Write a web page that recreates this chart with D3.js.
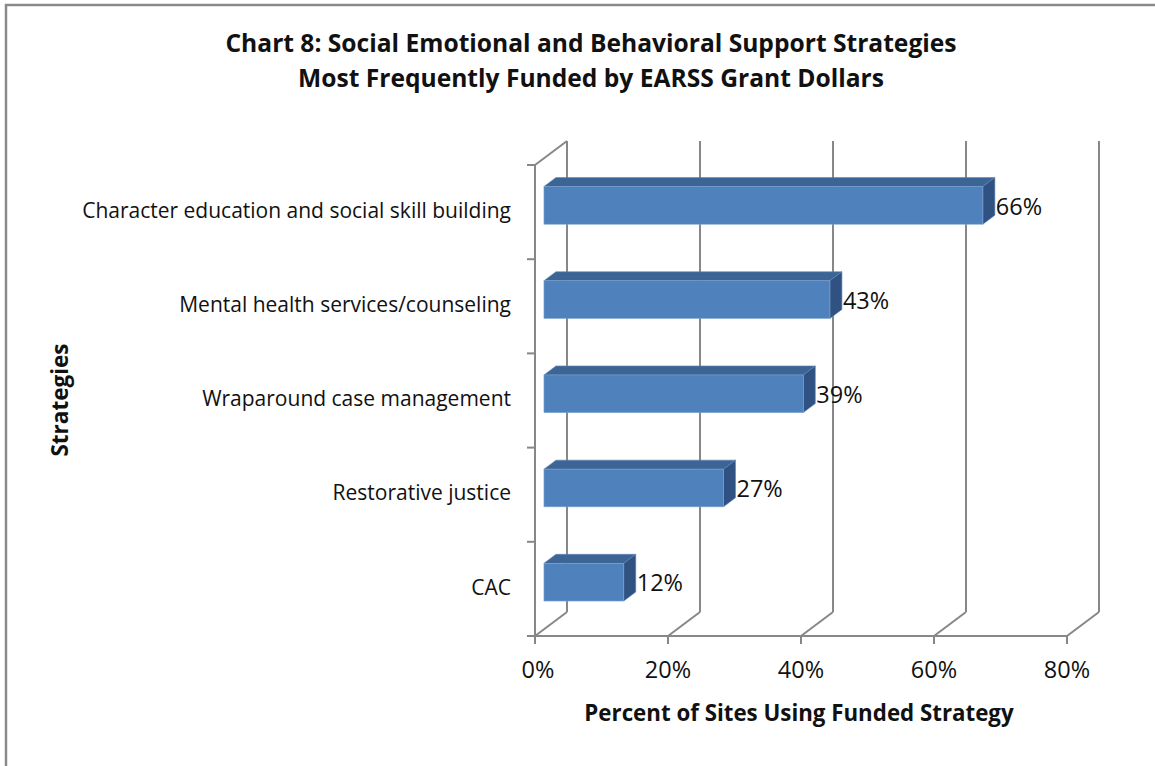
<!DOCTYPE html>
<html>
<head>
<meta charset="utf-8">
<script src="https://cdn.jsdelivr.net/npm/d3@7"></script>
<style>
  html, body { margin: 0; padding: 0; background: #fff; }
  svg { display: block; }
  text { font-family: "Open Sans", Lato, sans-serif; fill: #111; }
</style>
</head>
<body>
<svg id="chart" width="1155" height="766"></svg>
<script>
// Strategies and the share of sites using each one (percent)
const categories = [
  "Character education and social skill building",
  "Mental health services/counseling",
  "Wraparound case management",
  "Restorative justice",
  "CAC"
];
const values = [66, 43, 39, 27, 12];
const xTicks = [0, 20, 40, 60, 80];
const titleLines = [
  "Chart 8: Social Emotional and Behavioral Support Strategies",
  "Most Frequently Funded by EARSS Grant Dollars"
];
const xTitle = "Percent of Sites Using Funded Strategy";
const yTitle = "Strategies";

const svg = d3.select("#chart");
const W = 1155, H = 766;

svg.append("rect").attr("width", W).attr("height", H).attr("fill", "#fff");
// outer chart frame (runs off the right and bottom edges)
svg.append("rect")
  .attr("x", 6).attr("y", 5).attr("width", W + 20).attr("height", H + 20)
  .attr("fill", "none").attr("stroke", "#8a8a8a").attr("stroke-width", 2.5);

// plot geometry: front plane and the receding depth of the 3-D box
const front = { left: 535, right: 1067, top: 165, bottom: 636 };
const depth = { dx: 32, dy: -24 };
const barDepthStart = 0.28, barDepthSize = 0.375;

const x = d3.scaleLinear().domain([0, 80]).range([front.left, front.right]);
const yBand = d3.scaleBand().domain(categories).range([front.top, front.bottom]).padding(0);
const y = d3.scaleBand().domain(categories).range([front.top, front.bottom])
  .paddingInner(0.6).paddingOuter(0.3);

const grid = "#878787";
const g = svg.append("g");

// back-wall gridlines and floor diagonals
xTicks.forEach(t => {
  const fx = x(t);
  g.append("line")
    .attr("x1", fx + depth.dx).attr("x2", fx + depth.dx)
    .attr("y1", front.top + depth.dy).attr("y2", front.bottom + depth.dy)
    .attr("stroke", grid).attr("stroke-width", 2);
  g.append("line")
    .attr("x1", fx).attr("y1", front.bottom)
    .attr("x2", fx + depth.dx).attr("y2", front.bottom + depth.dy)
    .attr("stroke", grid).attr("stroke-width", 2);
  // tick below the floor edge
  g.append("line")
    .attr("x1", fx).attr("x2", fx)
    .attr("y1", front.bottom).attr("y2", front.bottom + 8)
    .attr("stroke", grid).attr("stroke-width", 2);
});

// left wall: front edge and top diagonal
g.append("line")
  .attr("x1", front.left).attr("x2", front.left)
  .attr("y1", front.top).attr("y2", front.bottom)
  .attr("stroke", grid).attr("stroke-width", 2);
g.append("line")
  .attr("x1", front.left).attr("y1", front.top)
  .attr("x2", front.left + depth.dx).attr("y2", front.top + depth.dy)
  .attr("stroke", grid).attr("stroke-width", 2);
// floor front edge
g.append("line")
  .attr("x1", front.left).attr("x2", front.right)
  .attr("y1", front.bottom).attr("y2", front.bottom)
  .attr("stroke", grid).attr("stroke-width", 2);

// category ticks on the value-axis wall
const boundaries = categories.map(c => yBand(c)).concat([front.bottom]);
boundaries.forEach(b => {
  g.append("line")
    .attr("x1", front.left - 8).attr("x2", front.left)
    .attr("y1", b).attr("y2", b)
    .attr("stroke", grid).attr("stroke-width", 2);
});

// 3-D bars
const ox = depth.dx * barDepthStart, oy = depth.dy * barDepthStart;
const bx = depth.dx * barDepthSize, by = depth.dy * barDepthSize;
const bars = svg.append("g").selectAll("g.bar")
  .data(categories.map((c, i) => ({ c, v: values[i] })))
  .join("g").attr("class", "bar");

bars.each(function (d) {
  const gb = d3.select(this);
  const x0 = x(0) + ox, x1 = x(d.v) + ox;
  const y0 = y(d.c) + oy, y1 = y0 + y.bandwidth();
  // top face
  gb.append("path")
    .attr("d", `M${x0},${y0}L${x0 + bx},${y0 + by}L${x1 + bx},${y0 + by}L${x1},${y0}Z`)
    .attr("fill", "#3c6596").attr("stroke", "#5c86b8").attr("stroke-width", 0.6);
  // side face
  gb.append("path")
    .attr("d", `M${x1},${y0}L${x1 + bx},${y0 + by}L${x1 + bx},${y1 + by}L${x1},${y1}Z`)
    .attr("fill", "#2f5282").attr("stroke", "#5c86b8").attr("stroke-width", 0.6);
  // front face
  gb.append("rect")
    .attr("x", x0).attr("y", y0).attr("width", x1 - x0).attr("height", y1 - y0)
    .attr("fill", "#4f81bd").attr("stroke", "#7ea3d0").attr("stroke-width", 0.6);
  // value label
  gb.append("text")
    .attr("x", x1 + bx + 1).attr("y", (y0 + y1) / 2 + 3)
    .attr("dominant-baseline", "middle")
    .attr("font-size", 23.5)
    .text(d.v + "%");
});

// category labels
svg.append("g").selectAll("text")
  .data(categories).join("text")
  .attr("x", 511)
  .attr("y", c => yBand(c) + yBand.bandwidth() / 2)
  .attr("text-anchor", "end").attr("dominant-baseline", "middle")
  .attr("font-size", 21)
  .text(c => c);

// value-axis tick labels
svg.append("g").selectAll("text")
  .data(xTicks).join("text")
  .attr("x", t => x(t) + (t === 0 ? 3 : 0))
  .attr("y", 672)
  .attr("text-anchor", "middle").attr("dominant-baseline", "middle")
  .attr("font-size", 23.5)
  .text(t => t + "%");

// titles
svg.append("g").selectAll("text")
  .data(titleLines).join("text")
  .attr("x", 591).attr("y", (d, i) => 45 + i * 35)
  .attr("text-anchor", "middle").attr("dominant-baseline", "middle")
  .attr("font-size", 24.6).attr("font-weight", "bold")
  .text(d => d);

svg.append("text")
  .attr("x", 799).attr("y", 715)
  .attr("text-anchor", "middle").attr("dominant-baseline", "middle")
  .attr("font-size", 22.3).attr("font-weight", "bold")
  .text(xTitle);

svg.append("text")
  .attr("transform", "translate(62,400) rotate(-90)")
  .attr("text-anchor", "middle").attr("dominant-baseline", "middle")
  .attr("font-size", 22.5).attr("font-weight", "bold")
  .text(yTitle);
</script>
</body>
</html>
